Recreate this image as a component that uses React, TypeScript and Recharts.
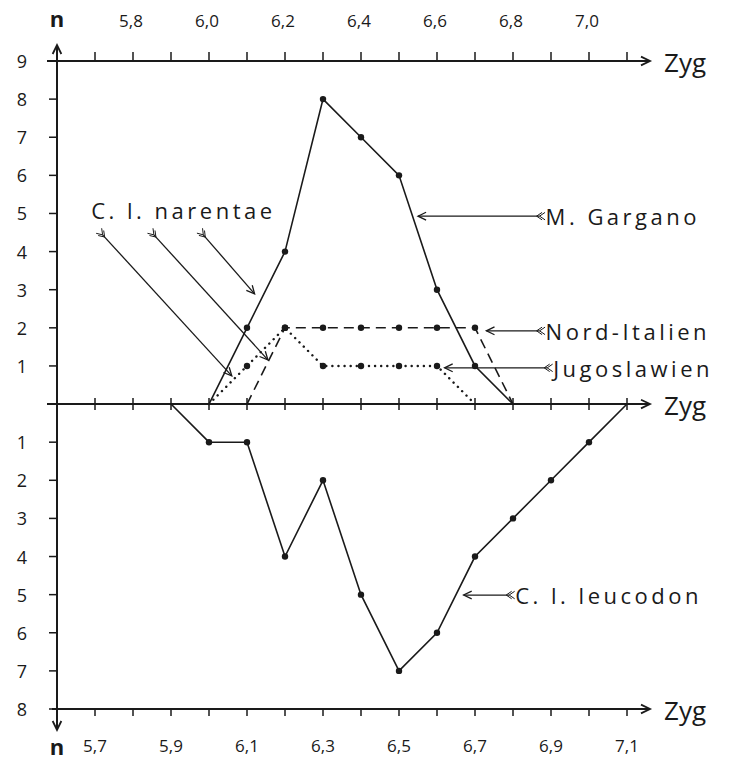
import React from "react";
import { LineChart, Line, XAxis, YAxis, ReferenceLine, ReferenceDot } from "recharts";

// Zyg class marks and tick labels
const zygTicks = [5.7, 5.8, 5.9, 6.0, 6.1, 6.2, 6.3, 6.4, 6.5, 6.6, 6.7, 6.8, 6.9, 7.0, 7.1];
const topLabelled = [5.8, 6.0, 6.2, 6.4, 6.6, 6.8, 7.0];
const bottomLabelled = [5.7, 5.9, 6.1, 6.3, 6.5, 6.7, 6.9, 7.1];
const nTicks = [-8, -7, -6, -5, -4, -3, -2, -1, 1, 2, 3, 4, 5, 6, 7, 8, 9];

// C. l. narentae populations (upper half)
const garganoZyg = [6.0, 6.1, 6.2, 6.3, 6.4, 6.5, 6.6, 6.7, 6.8];
const garganoN = [0, 2, 4, 8, 7, 6, 3, 1, 0];
const nordZyg = [6.1, 6.2, 6.3, 6.4, 6.5, 6.6, 6.7, 6.8];
const nordN = [0, 2, 2, 2, 2, 2, 2, 0];
const jugoZyg = [6.0, 6.1, 6.2, 6.3, 6.4, 6.5, 6.6, 6.7];
const jugoN = [0, 1, 2, 1, 1, 1, 1, 0];

// C. l. leucodon (lower half, drawn downwards)
const leucodonZyg = [5.9, 6.0, 6.1, 6.2, 6.3, 6.4, 6.5, 6.6, 6.7, 6.8, 6.9, 7.0, 7.1];
const leucodonN = [0, 1, 1, 4, 2, 5, 7, 6, 4, 3, 2, 1, 0];

// labelled pointers (in chart units)
const pointerLabels = ["M. Gargano", "Nord-Italien", "Jugoslawien", "C. l. leucodon"];
const pointerFrom = [[6.87, 4.93], [6.87, 1.92], [6.89, 0.95], [6.79, -5.01]];
const pointerTo = [[6.55, 4.93], [6.73, 1.92], [6.62, 0.95], [6.67, -5.01]];
const narentaeAt = [5.69, 5.1];
const narentaeTails = [[5.72, 4.44], [5.855, 4.44], [5.985, 4.44]];
const narentaeHeads = [[6.06, 0.74], [6.155, 1.16], [6.12, 2.89]];

const INK = "#1a1a1a";
const FONT = "'Open Sans', 'DejaVu Sans', sans-serif";

const rows = (xs: number[], ys: number[], sign = 1) => xs.map((z, i) => ({ zyg: z, n: sign * ys[i] }));
const has = (list: number[], v: number) => list.some((t) => Math.abs(t - v) < 1e-6);
const fmt = (v: number) => v.toFixed(1).replace(".", ",");

function head(x: number, y: number, ang: number, len = 9) {
  const a1 = ang + Math.PI - 0.45;
  const a2 = ang + Math.PI + 0.45;
  return `M${x + len * Math.cos(a1)},${y + len * Math.sin(a1)} L${x},${y} L${x + len * Math.cos(a2)},${y + len * Math.sin(a2)}`;
}

function TopTick({ cx, cy }: any, value: number) {
  return (
    <g>
      <line x1={cx} y1={cy} x2={cx} y2={cy - 9} stroke={INK} strokeWidth={1.5} />
      {has(topLabelled, value) && (
        <text x={cx - 2} y={cy - 41} textAnchor="middle" dominantBaseline="central" fontFamily={FONT} fontSize={17} fill={INK}>
          {fmt(value)}
        </text>
      )}
    </g>
  );
}

function BottomTick({ x, y, payload }: any) {
  return (
    <g>
      <line x1={x} y1={y} x2={x} y2={y + 7} stroke={INK} strokeWidth={1.5} />
      {has(bottomLabelled, payload.value) && (
        <text x={x} y={y + 36} textAnchor="middle" dominantBaseline="central" fontFamily={FONT} fontSize={17} fill={INK}>
          {fmt(payload.value)}
        </text>
      )}
    </g>
  );
}

function LeftTick({ x, y, payload }: any) {
  return (
    <g>
      <line x1={x - 8} y1={y} x2={x} y2={y} stroke={INK} strokeWidth={1.5} />
      <text x={x - 35} y={y} textAnchor="middle" dominantBaseline="central" fontFamily={FONT} fontSize={18} fill={INK}>
        {Math.abs(payload.value)}
      </text>
    </g>
  );
}

function HAxis(props: any, label: string, ext: number) {
  const { x1, x2, y1 } = props;
  const left = Math.min(x1, x2) - ext;
  const right = Math.max(x1, x2) + 4;
  return (
    <g>
      <line x1={left} y1={y1} x2={right} y2={y1} stroke={INK} strokeWidth={2} />
      <path d={head(right, y1, 0, 10)} fill="none" stroke={INK} strokeWidth={1.8} />
      <text x={right + 14} y={y1 + 1} dominantBaseline="central" fontFamily={FONT} fontSize={26} fill={INK}>
        {label}
      </text>
    </g>
  );
}

function VAxis(props: any) {
  const { x1, y1, y2 } = props;
  const top = Math.min(y1, y2) - 16;
  const bottom = Math.max(y1, y2) + 21;
  return (
    <g>
      <line x1={x1} y1={top} x2={x1} y2={bottom} stroke={INK} strokeWidth={2} />
      <path d={head(x1, top, -Math.PI / 2, 10)} fill="none" stroke={INK} strokeWidth={1.8} />
      <path d={head(x1, bottom, Math.PI / 2, 10)} fill="none" stroke={INK} strokeWidth={1.8} />
      <text x={x1} y={top - 27} textAnchor="middle" dominantBaseline="central" fontFamily={FONT} fontSize={22} fontWeight={700} fill={INK}>
        n
      </text>
      <text x={x1} y={bottom + 16} textAnchor="middle" dominantBaseline="central" fontFamily={FONT} fontSize={22} fontWeight={700} fill={INK}>
        n
      </text>
    </g>
  );
}

function MidTick({ cx, cy }: any) {
  return <line x1={cx} y1={cy - 6} x2={cx} y2={cy + 6} stroke={INK} strokeWidth={1.5} />;
}

function Pointer(props: any, text?: string) {
  const { x1, y1, x2, y2 } = props;
  const ang = Math.atan2(y2 - y1, x2 - x1);
  const back = ang + Math.PI;
  const f = (d: number, s: number) =>
    `M${x1 + d * Math.cos(ang)},${y1 + d * Math.sin(ang)} L${x1 + (d - 4) * Math.cos(ang) + 4 * Math.cos(back + s)},${y1 + (d - 4) * Math.sin(ang) + 4 * Math.sin(back + s)}`;
  return (
    <g>
      <line x1={x1} y1={y1} x2={x2} y2={y2} stroke={INK} strokeWidth={1.3} />
      <path d={head(x2, y2, ang, 9)} fill="none" stroke={INK} strokeWidth={1.3} />
      <path d={`${f(0, 1.2)} ${f(0, -1.2)} ${f(3, 1.2)} ${f(3, -1.2)}`} fill="none" stroke={INK} strokeWidth={1} />
      {text && (
        <text x={x1 + 6} y={y1} dominantBaseline="central" fontFamily={FONT} fontSize={22} letterSpacing={3.5} fill={INK}>
          {text}
        </text>
      )}
    </g>
  );
}

const dot = (props: any) => {
  const { cx, cy, payload, index } = props;
  if (payload.n === 0) return <g key={`d${index}`} />;
  return <circle key={`d${index}`} cx={cx} cy={cy} r={3.2} fill={INK} />;
};

export default function App() {
  return (
    <div style={{ position: "absolute", left: 0, top: 0, background: "#fff" }}>
      <LineChart width={731} height={760} margin={{ top: 61, right: 85, bottom: 0, left: 0 }}>
        <XAxis
          type="number"
          dataKey="zyg"
          domain={[5.6, 7.15]}
          ticks={zygTicks}
          interval={0}
          height={51}
          axisLine={false}
          tickLine={false}
          tickSize={0}
          tickMargin={0}
          tick={BottomTick}
        />
        <YAxis
          type="number"
          domain={[-8, 9]}
          ticks={nTicks}
          interval={0}
          width={57}
          axisLine={false}
          tickLine={false}
          tickSize={0}
          tickMargin={0}
          tick={LeftTick}
        />

        <ReferenceLine y={9} shape={(p: any) => HAxis(p, "Zyg", 10)} />
        <ReferenceLine y={0} shape={(p: any) => HAxis(p, "Zyg", 10)} />
        <ReferenceLine y={-8} shape={(p: any) => HAxis(p, "Zyg", 5)} />
        <ReferenceLine x={5.6} shape={VAxis} />
        {zygTicks.map((t) => (
          <ReferenceDot key={`t${t}`} x={t} y={9} shape={(p: any) => TopTick(p, t)} />
        ))}
        {zygTicks.map((t) => (
          <ReferenceDot key={`m${t}`} x={t} y={0} shape={MidTick} />
        ))}

        <Line data={rows(garganoZyg, garganoN)} dataKey="n" type="linear" stroke={INK} strokeWidth={1.6} dot={dot} isAnimationActive={false} />
        <Line data={rows(nordZyg, nordN)} dataKey="n" type="linear" stroke={INK} strokeWidth={1.6} strokeDasharray="10 6" dot={dot} isAnimationActive={false} />
        <Line data={rows(jugoZyg, jugoN)} dataKey="n" type="linear" stroke={INK} strokeWidth={2.4} strokeDasharray="0.1 6" strokeLinecap="round" dot={dot} isAnimationActive={false} />
        <Line data={rows(leucodonZyg, leucodonN, -1)} dataKey="n" type="linear" stroke={INK} strokeWidth={1.6} dot={dot} isAnimationActive={false} />

        {pointerLabels.map((lab, i) => (
          <ReferenceLine
            key={lab}
            segment={[
              { x: pointerFrom[i][0], y: pointerFrom[i][1] },
              { x: pointerTo[i][0], y: pointerTo[i][1] },
            ]}
            shape={(p: any) => Pointer(p, lab)}
          />
        ))}
        {narentaeTails.map((t, i) => (
          <ReferenceLine
            key={`na${i}`}
            segment={[
              { x: t[0], y: t[1] },
              { x: narentaeHeads[i][0], y: narentaeHeads[i][1] },
            ]}
            shape={(p: any) => Pointer(p)}
          />
        ))}
        <ReferenceDot
          x={narentaeAt[0]}
          y={narentaeAt[1]}
          shape={({ cx, cy }: any) => (
            <text x={cx} y={cy} dominantBaseline="central" fontFamily={FONT} fontSize={22} letterSpacing={3.5} fill={INK}>
              C. l. narentae
            </text>
          )}
        />
      </LineChart>
    </div>
  );
}
